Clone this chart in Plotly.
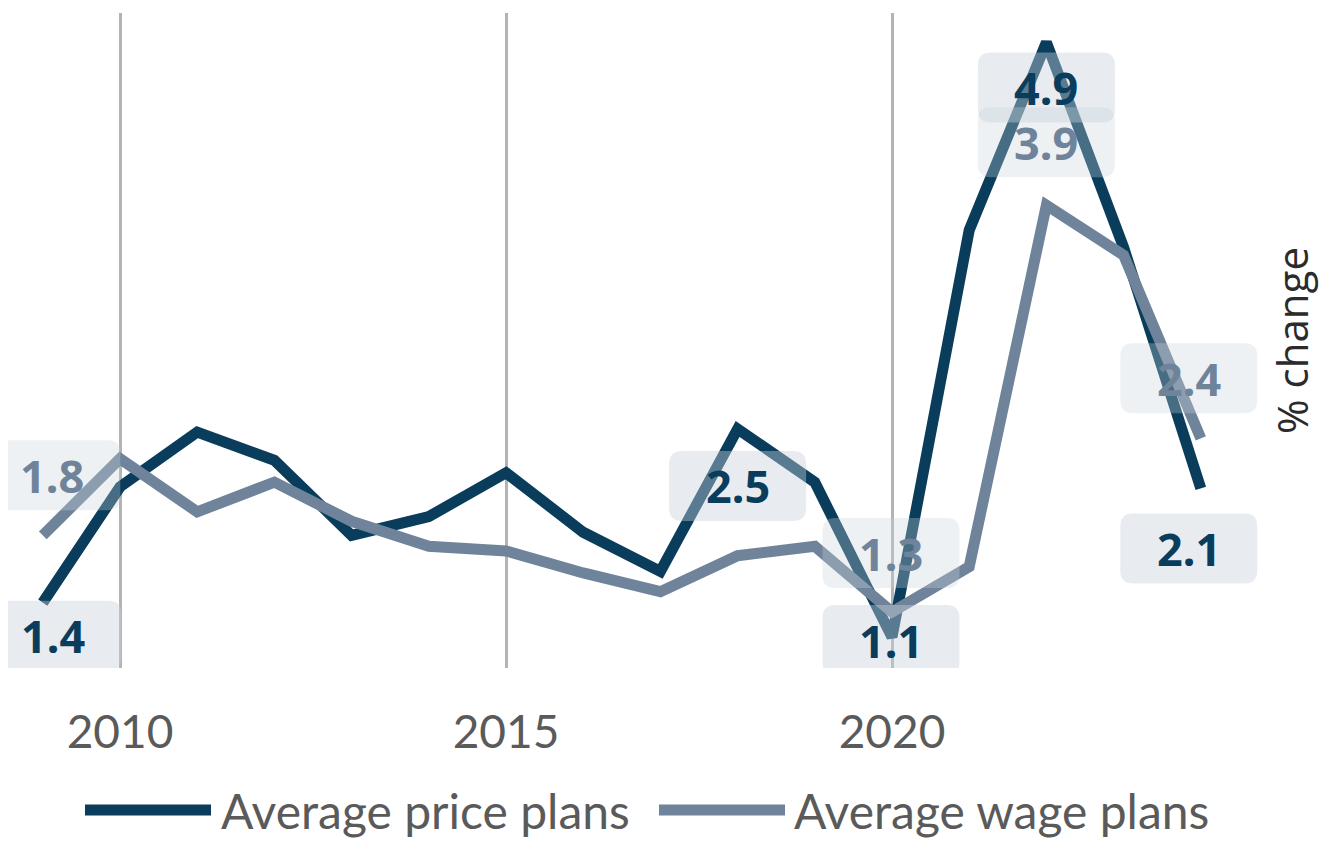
import plotly.graph_objects as go

years = list(range(2009, 2025))
price_plans = [1.36, 2.10, 2.45, 2.27, 1.79, 1.91, 2.19, 1.81, 1.56, 2.47, 2.13, 1.14, 3.74, 4.94, 3.63, 2.09]
wage_plans = [1.79, 2.28, 1.94, 2.13, 1.88, 1.72, 1.69, 1.55, 1.43, 1.66, 1.72, 1.30, 1.59, 3.90, 3.58, 2.41]
tick_years = [2010, 2015, 2020]
series_names = ["Average price plans", "Average wage plans"]

PRICE_C = "#0a3d5c"
WAGE_C = "#6f849a"

# label placement: (year, dx px, dy px (down positive))
price_labels = [(2009, 10, 33), (2018, 0, 57), (2020, -1, 3), (2022, 0, 45), (2024, -12, 60)]
wage_labels = [(2009, 9, -60), (2020, -1, -59), (2022, 0, -63), (2024, -12, -60)]

OFF = 8  # page body margin
W, H = 1333, 841
ML, MT = 0, 13 - OFF
PW = 1258 - OFF
PH = 655
MR = W - ML - PW
MB = H - MT - PH
PX_PER_YEAR = 77.2
x0 = 2010 - (120 - OFF) / PX_PER_YEAR
x1 = x0 + PW / PX_PER_YEAR
PX_PER_UNIT = 156.5
Y0 = 815.5 - OFF
ytop = (Y0 - MT) / PX_PER_UNIT
ybot = (Y0 - (MT + PH)) / PX_PER_UNIT

fig = go.Figure()
fig.add_trace(go.Scatter(x=years, y=price_plans, mode="lines", name=series_names[0],
                         line=dict(color=PRICE_C, width=11), showlegend=False))
fig.add_trace(go.Scatter(x=years, y=wage_plans, mode="lines", name=series_names[1],
                         line=dict(color=WAGE_C, width=11), showlegend=False))

shapes = []
annotations = []
BW, BH, R = 137, 70, 13


def rounded_path(cx, cy):
    l, r = cx - BW / 2, cx + BW / 2
    b, t = cy - BH / 2, cy + BH / 2
    return (f"M{l+R},{b} L{r-R},{b} Q{r},{b} {r},{b+R} L{r},{t-R} Q{r},{t} {r-R},{t} "
            f"L{l+R},{t} Q{l},{t} {l},{t-R} L{l},{b+R} Q{l},{b} {l+R},{b} Z")


def add_labels(labels, values, color, fill):
    for yr, dx, dy in labels:
        v = values[years.index(yr)]
        shapes.append(dict(type="path", xref="x", yref="y", xsizemode="pixel", ysizemode="pixel",
                           xanchor=yr, yanchor=v, path=rounded_path(dx, -dy),
                           fillcolor=fill, line=dict(width=0), layer="above"))
        annotations.append(dict(x=yr, y=v, xref="x", yref="y", text=f"{v:.1f}", showarrow=False,
                                xshift=dx, yshift=-dy,
                                font=dict(family="Noto Sans", size=45, color=color, weight="bold")))


add_labels(price_labels, price_plans, PRICE_C, "rgba(200,210,219,0.42)")
add_labels(wage_labels, wage_plans, WAGE_C, "rgba(200,210,219,0.32)")


def px2paper_x(px):
    return (px - OFF - ML) / PW


def py2paper_y(py):
    return (MT + PH - (py - OFF)) / PH


LEG_FONT = dict(family="Lato", size=48, color="#5a5a5a")
leg_y = py2paper_y(810)
for (lx0, lx1, tx), name, col in zip([(85, 211, 219), (659, 785, 792)], series_names, [PRICE_C, WAGE_C]):
    shapes.append(dict(type="line", xref="paper", yref="paper", x0=px2paper_x(lx0), x1=px2paper_x(lx1),
                       y0=leg_y, y1=leg_y, line=dict(color=col, width=11)))
    annotations.append(dict(x=px2paper_x(tx), y=leg_y, xref="paper", yref="paper", text=name,
                            showarrow=False, xanchor="left", yanchor="middle", font=LEG_FONT))

fig.update_layout(
    width=W, height=H, margin=dict(l=ML, r=MR, t=MT, b=MB),
    paper_bgcolor="white", plot_bgcolor="white",
    showlegend=False, shapes=shapes, annotations=annotations,
    xaxis=dict(range=[x0, x1], tickvals=tick_years, ticktext=[str(t) for t in tick_years],
               showgrid=True, gridcolor="#b3b3b3", gridwidth=3, zeroline=False, showline=False,
               ticks="outside", ticklen=24, tickcolor="rgba(0,0,0,0)",
               tickfont=dict(family="Lato", size=46, color="#5a5a5a")),
    yaxis=dict(range=[ybot, ytop], side="right", showticklabels=False, showgrid=False, zeroline=False,
               showline=False, ticks="",
               title=dict(text="% change", standoff=20,
                          font=dict(family="Open Sans", size=42, color="#2b2b2b"))),
)

fig.write_html("out.html")
